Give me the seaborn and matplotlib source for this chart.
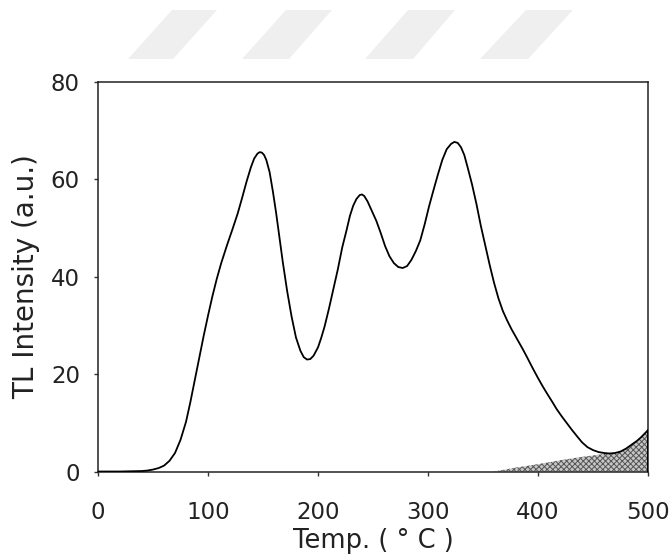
import matplotlib
matplotlib.use("Agg")
import matplotlib.pyplot as plt
from matplotlib.patches import Polygon
import seaborn as sns
import pandas as pd

# TL glow curve
temp = [0, 20, 40, 45, 50, 55, 60, 65, 70, 75, 80, 84, 88, 92, 96, 100, 104,
        108, 112, 117, 122, 127, 131, 135, 139, 142, 145, 147, 149, 151, 153,
        156, 159, 162, 165, 168, 172, 176, 180, 184, 187, 190, 193, 196, 200,
        203, 206, 210, 214, 218, 222, 226, 229, 232, 235, 238, 240, 242, 245,
        249, 253, 257, 261, 265, 269, 273, 277, 281, 285, 289, 293, 297, 301,
        305, 309, 313, 317, 321, 324, 327, 330, 333, 336, 340, 344, 348, 352,
        356, 360, 364, 368, 372, 376, 381, 386, 390, 395, 400, 404, 408, 413,
        417, 422, 426, 431, 436, 440, 445, 450, 455, 460, 465, 470, 475, 480,
        485, 490, 494, 497, 500]
intensity = [0, 0, 0.1, 0.2, 0.4, 0.7, 1.2, 2.2, 3.8, 6.5, 10.2, 14.3, 18.8,
             23.3, 27.8, 32, 36, 39.6, 42.8, 46.3, 49.6, 53, 56.2, 59.5, 62.5,
             64.3, 65.3, 65.6, 65.5, 65, 64, 61.5, 57.5, 53, 48, 43, 37, 31.8,
             27.5, 24.8, 23.5, 23, 23.1, 23.8, 25.5, 27.5, 29.8, 33.5, 37.5,
             41.5, 46, 49.6, 52.5, 54.6, 56, 56.8, 56.9, 56.6, 55.5, 53.5, 51.5,
             49, 46.3, 44.2, 42.8, 42, 41.8, 42.2, 43.5, 45.3, 47.5, 50.8, 54.5,
             57.8, 61, 64, 66.2, 67.3, 67.7, 67.5, 66.6, 65, 62.5, 59, 55, 50.5,
             46.5, 42.5, 38.8, 35.6, 33, 31, 29.2, 27.2, 25.2, 23.5, 21.3, 19.2,
             17.6, 16.1, 14.3, 12.8, 11.2, 10, 8.5, 7.1, 6, 5, 4.4, 4.0, 3.8,
             3.7, 3.8, 4.1, 4.7, 5.5, 6.3, 7.1, 7.8, 8.5]

# Shaded (hatched) background component
bg_temp = [360, 380, 400, 420, 440, 460, 470, 475, 480, 485, 490, 494, 497, 500]
bg_int = [0, 0.8, 1.5, 2.3, 3.0, 3.6, 3.8, 4.1, 4.7, 5.5, 6.3, 7.1, 7.8, 8.5]

xticks = [0, 100, 200, 300, 400, 500]
yticks = [0, 20, 40, 60, 80]

sns.set_theme(style="white")
plt.rcParams["font.family"] = ["DejaVu Sans"]
plt.rcParams["hatch.linewidth"] = 0.7

fig = plt.figure(figsize=(6.69, 5.58), dpi=100)
ax = fig.add_axes([0.1465, 0.155, 0.8221, 0.698])

# watermark-like light bars at top
W, H = 669.0, 558.0
bars = [((128, 59), (173, 59), (217, 10), (172, 10)),
        ((242, 59), (289, 59), (332, 10), (286, 10)),
        ((365, 59), (413, 59), (455, 10), (408, 10)),
        ((480, 59), (528, 59), (573, 10), (526, 10))]
for b in bars:
    pts = [(x / W, 1 - y / H) for x, y in b]
    fig.patches.append(Polygon(pts, closed=True, transform=fig.transFigure,
                               facecolor="#efefef", edgecolor="none", zorder=0))

df = pd.DataFrame({"T": temp, "I": intensity})
ax.fill_between(bg_temp, 0, bg_int, facecolor="#c6c6c6", edgecolor="#555555",
                hatch="xxxxxx", linewidth=0, zorder=2)
ax.plot([bg_temp[-1], bg_temp[-1]], [0, bg_int[-1]], color="black", lw=1.4, zorder=3)
sns.lineplot(data=df, x="T", y="I", ax=ax, color="black", linewidth=1.3,
             sort=False, zorder=4)

ax.set_xlim(0, 500)
ax.set_ylim(0, 80)
ax.set_xticks(xticks)
ax.set_yticks(yticks)
ax.tick_params(axis="both", direction="out", length=3, width=1, color="#333333",
               labelsize=16.5, bottom=True, left=True, top=False, right=False,
               labelcolor="#222222")
ax.tick_params(axis="x", pad=18)
ax.tick_params(axis="y", pad=10)
for s in ax.spines.values():
    s.set_color("#222222")
    s.set_linewidth(1.1)
ax.set_xlabel("Temp. ( ° C )", fontsize=18.5, labelpad=3, color="#222222")
ax.set_ylabel("TL Intensity (a.u.)", fontsize=20, labelpad=8, color="#222222")

fig.savefig("out.png", dpi=100)
